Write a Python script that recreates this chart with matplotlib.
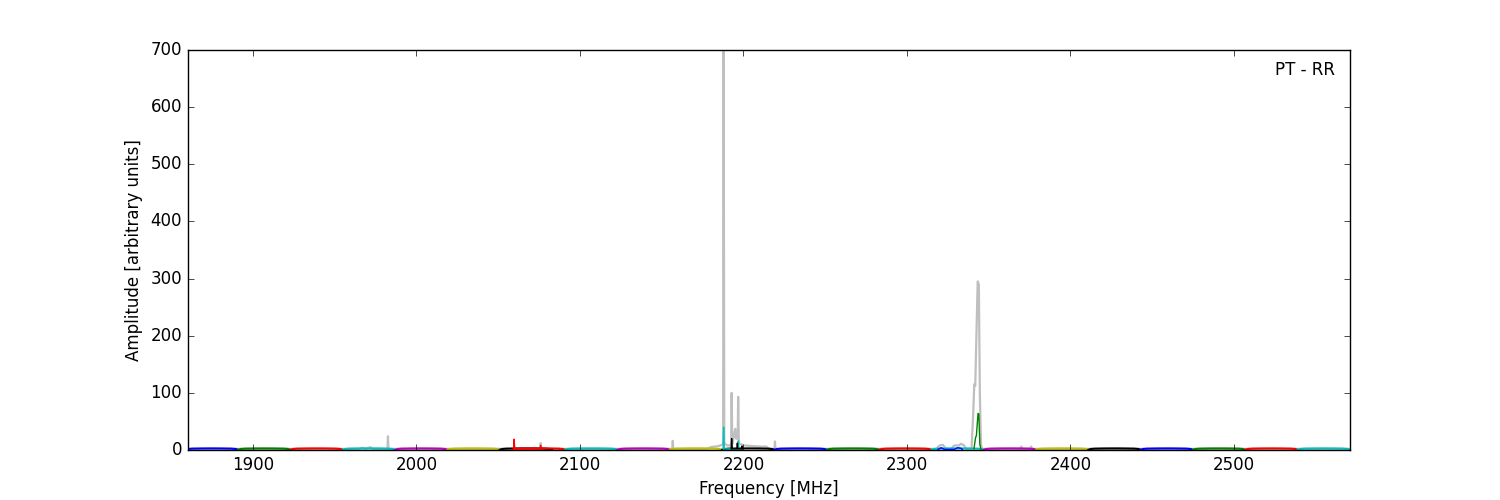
import matplotlib
matplotlib.use("Agg")
import matplotlib.pyplot as plt
import numpy as np

plt.style.use("classic")

# ---- data ----
# subband start frequencies [MHz] and colours of the per-subband bandpass traces
sub_starts = [1859, 1891, 1923, 1955, 1987, 2019, 2051, 2059, 2091, 2123, 2155,
              2187, 2219, 2251, 2283, 2315, 2347, 2379, 2411, 2443, 2475, 2507, 2539]
sub_colors = ['b', 'g', 'r', 'c', 'm', 'y', 'k', 'r', 'c', 'm', 'y',
              'k', 'b', 'g', 'r', 'c', 'm', 'y', 'k', 'b', 'g', 'r', 'c']
# bandpass shape within one subband (offset in MHz, amplitude)
band_offsets = [0, 1.5, 4, 10, 16, 22, 28, 30.5, 32]
band_levels = [0.4, 1.8, 2.4, 2.7, 2.8, 2.7, 2.4, 1.8, 0.4]

# total (grey) spectrum
gray_freq = [1859, 1965, 1967, 1969, 1972, 1973, 1982.3, 1982.6, 1982.9,
             2075.7, 2076.0, 2076.3, 2156.5, 2156.8, 2157.1,
             2178, 2180, 2185, 2187.6, 2187.9, 2188.3, 2190, 2192.5, 2192.8, 2193.2,
             2194.5, 2195.0, 2195.5, 2196.5, 2196.8, 2197.2, 2200, 2205, 2210, 2214, 2216,
             2219.0, 2219.3, 2219.6, 2318, 2320, 2322, 2324, 2327, 2329, 2332, 2333, 2335, 2336,
             2339.5, 2340.5, 2341.2, 2341.8, 2342.5, 2343.3, 2344.0, 2344.6, 2345.3, 2346,
             2369.5, 2370.0, 2370.5, 2375.5, 2376.0, 2376.5, 2571]
gray_amp = [2, 2, 4, 2, 5, 2, 2, 24, 2,
            2, 12, 2, 2, 16, 2,
            2, 5, 7, 10, 720, 12, 8, 8, 100, 10,
            30, 37, 20, 20, 93, 12, 8, 7, 6, 6, 2,
            2, 15, 2, 2, 8, 9, 2, 2, 8, 8, 11, 8, 2,
            2, 60, 115, 112, 200, 295, 290, 100, 10, 2,
            2, 6, 2, 2, 6, 2, 2]

# narrow features in the individual subband traces
red_freq = [2059.5, 2059.8, 2060.1, 2075.7, 2076.0, 2076.3]
red_amp = [2, 19, 2, 2, 8, 2]
cyan_freq = [2187.6, 2187.9, 2188.3, 2196.6, 2196.9, 2197.2]
cyan_amp = [2, 40, 2, 2, 16, 2]
black_freq = [2192.5, 2192.8, 2193.2, 2196.0, 2196.3, 2196.6, 2198.8, 2199.1, 2199.4]
black_amp = [2, 20, 2, 2, 12, 2, 2, 7, 2]
green_freq = [2341.0, 2342.0, 2342.5, 2343.5, 2344.0, 2344.6, 2345.2]
green_amp = [2, 22, 25, 64, 63, 10, 2]
blue_freq = [2319, 2321, 2323, 2329, 2331, 2333, 2334]
blue_amp = [1, 4, 1, 1, 4, 3, 1]

x_ticks = [1900, 2000, 2100, 2200, 2300, 2400, 2500]
y_ticks = [0, 100, 200, 300, 400, 500, 600, 700]

# ---- plot ----
fig = plt.figure(figsize=(15, 5), dpi=100, facecolor='white')
ax = fig.add_subplot(111)
fig.subplots_adjust(left=0.125, right=0.9, bottom=0.1, top=0.9)

ax.plot(gray_freq, gray_amp, color='0.75', lw=1.6, zorder=1)

for start, col in zip(sub_starts, sub_colors):
    f = [start + o for o in band_offsets]
    ax.plot(f, band_levels, color=col, lw=1.5, zorder=2)

ax.plot(blue_freq, blue_amp, color='b', lw=1, zorder=3)
ax.plot(red_freq, red_amp, color='r', lw=1, zorder=3)
ax.plot(cyan_freq, cyan_amp, color='c', lw=1, zorder=3)
ax.plot(black_freq, black_amp, color='k', lw=1, zorder=3)
ax.plot(green_freq, green_amp, color='g', lw=1, zorder=3)

ax.set_xlim(1860, 2571)
ax.set_ylim(0, 700)
ax.set_xticks(x_ticks)
ax.set_yticks(y_ticks)
ax.set_xlabel('Frequency [MHz]', fontsize=12)
ax.set_ylabel('Amplitude [arbitrary units]', fontsize=12)
ax.tick_params(labelsize=12)
ax.text(0.987, 0.95, 'PT - RR', transform=ax.transAxes, ha='right', va='center',
        fontsize=12)

fig.savefig('out.png', dpi=100, facecolor='white')
